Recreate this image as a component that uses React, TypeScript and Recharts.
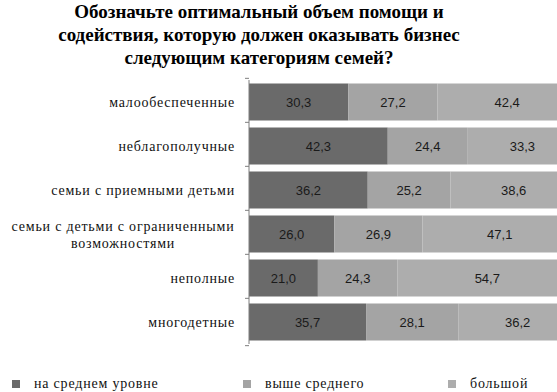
import { BarChart, Bar, XAxis, YAxis, LabelList, Legend } from "recharts";

const categories = [
  "малообеспеченные",
  "неблагополучные",
  "семьи с приемными детьми",
  "семьи с детьми с ограниченными\nвозможностями",
  "неполные",
  "многодетные",
];
const average = [30.3, 42.3, 36.2, 26.0, 21.0, 35.7];
const aboveAverage = [27.2, 24.4, 25.2, 26.9, 24.3, 28.1];
const large = [42.4, 33.3, 38.6, 47.1, 54.7, 36.2];

const seriesNames = ["на среднем уровне", "выше среднего", "большой"];
const seriesKeys = ["avg", "above", "large"];
const colors = ["#6a6a6a", "#a4a4a4", "#adadad"];

const titleLines = [
  "Обозначьте оптимальный объем помощи и",
  "содействия, которую должен оказывать бизнес",
  "следующим категориям семей?",
];

const data = categories.map((name, i) => ({
  name,
  avg: average[i],
  above: aboveAverage[i],
  large: large[i],
}));

const PLOT_TOP = 80;
const PLOT_BOTTOM = 364;
const AXIS_X = 249;
const BAND = (PLOT_BOTTOM - PLOT_TOP) / categories.length;
const legendX = [12, 243, 448];

const serif = "'Liberation Serif', 'Times New Roman', serif";
const fmt = (v: any) => Number(v).toFixed(1).replace(".", ",");

function CategoryTick(props: any) {
  const { y, payload, index } = props;
  const lines = String(payload.value).split("\n");
  const right = 235;
  const lh = 17;
  const y0 = y - ((lines.length - 1) * lh) / 2;
  // multi-line labels are centred as a block, right edge at the axis
  const blockW = lines.length > 1 ? 224 : 0;
  return (
    <g>
      <line x1={AXIS_X - 4} x2={AXIS_X} y1={y - BAND / 2} y2={y - BAND / 2} stroke="#7f7f7f" />
      {index === categories.length - 1 && (
        <line x1={AXIS_X - 4} x2={AXIS_X} y1={y + BAND / 2} y2={y + BAND / 2} stroke="#7f7f7f" />
      )}
      {lines.map((l, i) => (
        <text
          key={i}
          x={lines.length > 1 ? right - blockW / 2 : right}
          y={y0 + i * lh}
          dy={5}
          textAnchor={lines.length > 1 ? "middle" : "end"}
          fontFamily={serif}
          fontSize={14}
          letterSpacing={0.8}
          fill="#111"
        >
          {l}
        </text>
      ))}
    </g>
  );
}

function LegendContent() {
  return (
    <div style={{ position: "relative", height: 20 }}>
      {seriesNames.map((n, i) => (
        <div
          key={n}
          style={{
            position: "absolute",
            left: legendX[i],
            top: 0,
            display: "flex",
            alignItems: "center",
            fontFamily: serif,
            fontSize: 14,
            letterSpacing: 0.8,
            color: "#111",
          }}
        >
          <span
            style={{
              display: "inline-block",
              width: 8,
              height: 8,
              background: colors[i],
              marginRight: 14,
            }}
          />
          {n}
        </div>
      ))}
    </div>
  );
}

export default function App() {
  return (
    <div
      style={{
        position: "absolute",
        left: 0,
        top: 0,
        width: 557,
        height: 392,
        overflow: "hidden",
        background: "#fff",
      }}
    >
      <div
        style={{
          position: "absolute",
          left: 0,
          top: 0,
          width: 518,
          textAlign: "center",
          fontFamily: serif,
          fontWeight: "bold",
          fontSize: 19,
          lineHeight: "23px",
          color: "#000",
        }}
      >
        {titleLines.map((l) => (
          <div key={l}>{l}</div>
        ))}
      </div>
      <BarChart
        width={600}
        height={392}
        data={data}
        layout="vertical"
        margin={{ top: PLOT_TOP, bottom: 392 - PLOT_BOTTOM, left: 0, right: 23 }}
        barCategoryGap={3.5}
      >
        <XAxis type="number" domain={[0, 100]} hide />
        <YAxis
          type="category"
          dataKey="name"
          width={AXIS_X}
          axisLine={{ stroke: "#7f7f7f" }}
          tickLine={false}
          tick={<CategoryTick />}
          interval={0}
        />
        {seriesKeys.map((k, i) => (
          <Bar
            key={k}
            dataKey={k}
            name={seriesNames[i]}
            stackId="a"
            fill={colors[i]}
            isAnimationActive={false}
          >
            <LabelList
              dataKey={k}
              position="center"
              formatter={fmt}
              style={{ fontFamily: "'Liberation Sans', Arial, sans-serif", fontSize: 13, fill: "#1a1a1a" }}
            />
          </Bar>
        ))}
        <Legend
          content={<LegendContent />}
          wrapperStyle={{ left: 0, top: 376, width: 557 }}
        />
      </BarChart>
    </div>
  );
}
